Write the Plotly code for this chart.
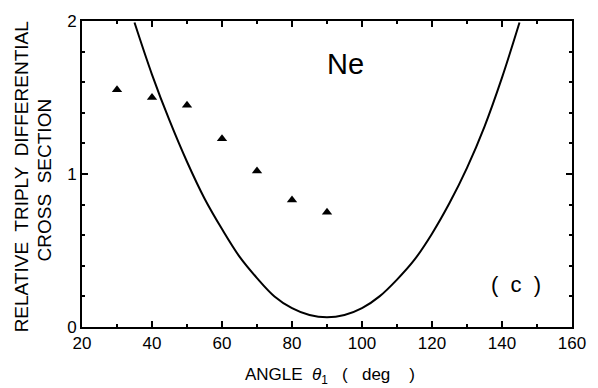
import plotly.graph_objects as go

# Measured data (triangles)
theta_data = [30, 40, 50, 60, 70, 80, 90]
tdcs_data = [1.55, 1.50, 1.45, 1.23, 1.02, 0.83, 0.75]

# Theory curve
theta_curve = [35, 40, 45, 50, 55, 60, 65, 70, 75, 80, 85, 90,
               95, 100, 105, 110, 115, 120, 125, 130, 135, 140, 145]
tdcs_curve = [1.99, 1.65, 1.35, 1.08, 0.84, 0.64, 0.46, 0.32, 0.20, 0.123, 0.078, 0.063,
              0.078, 0.123, 0.20, 0.31, 0.44, 0.61, 0.81, 1.04, 1.31, 1.63, 1.99]

x_ticks = [20, 40, 60, 80, 100, 120, 140, 160]
y_ticks = [0, 1, 2]

FONT = "Liberation Sans, Arial, sans-serif"

fig = go.Figure()
fig.add_trace(go.Scatter(x=theta_curve, y=tdcs_curve, mode="lines",
                         line=dict(color="black", width=2, shape="spline", smoothing=1),
                         showlegend=False, hoverinfo="skip"))
fig.add_trace(go.Scatter(x=theta_data, y=tdcs_data, mode="markers",
                         marker=dict(symbol="triangle-up", size=9, color="black"),
                         showlegend=False))

axis_common = dict(showgrid=False, zeroline=False, showline=True, linecolor="black",
                   linewidth=2, mirror="ticks", ticks="inside", ticklen=6, tickwidth=1.5,
                   tickcolor="black", tickfont=dict(family=FONT, size=17, color="black"))

fig.update_xaxes(range=[20, 160], tickvals=x_ticks, ticktext=[str(v) for v in x_ticks],
                 minor=dict(dtick=10, tick0=20, ticks="inside", ticklen=3, tickwidth=1.5,
                            tickcolor="black", showgrid=False),
                 **axis_common)
fig.update_yaxes(range=[0, 2], tickvals=y_ticks, ticktext=[str(v) for v in y_ticks],
                 minor=dict(dtick=0.2, tick0=0, ticks="inside", ticklen=3, tickwidth=1.5,
                            tickcolor="black", showgrid=False),
                 **axis_common)

fig.add_annotation(text="ANGLE  <i>θ</i><sub>1</sub>   (   deg    )",
                   xref="paper", yref="paper", x=0.50, y=0, xanchor="center",
                   yanchor="middle", yshift=-49, xshift=3, showarrow=False,
                   font=dict(family=FONT, size=17, color="black"))
fig.add_annotation(text="RELATIVE  TRIPLY  DIFFERENTIAL", textangle=-90,
                   xref="paper", yref="paper", x=0, y=0.489, xanchor="center",
                   yanchor="middle", showarrow=False, xshift=-61,
                   font=dict(family=FONT, size=19, color="black"))
fig.add_annotation(text="CROSS  SECTION", textangle=-90,
                   xref="paper", yref="paper", x=0, y=0.479, xanchor="center",
                   yanchor="middle", showarrow=False, xshift=-38,
                   font=dict(family=FONT, size=19, color="black"))
fig.add_annotation(text="Ne", x=95.2, y=1.72, xref="x", yref="y", showarrow=False,
                   font=dict(family=FONT, size=29, color="black"))
fig.add_annotation(text="(  c  )", x=144, y=0.278, xref="x", yref="y", showarrow=False,
                   font=dict(family=FONT, size=22, color="black"))

fig.update_layout(width=598, height=388, margin=dict(l=82, r=19, t=18, b=61),
                  plot_bgcolor="white", paper_bgcolor="white")

fig.write_html("out.html", config={"displayModeBar": False},
               post_script="document.body.style.margin='0';document.body.style.overflow='hidden';")
